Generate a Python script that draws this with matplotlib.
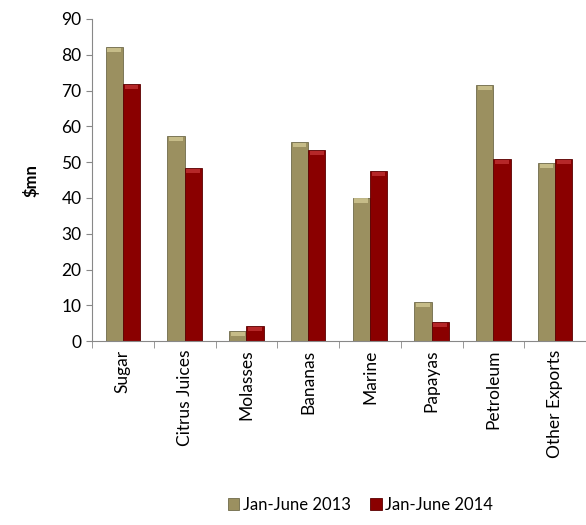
import numpy as np
import matplotlib.pyplot as plt
from matplotlib.ticker import FixedLocator

plt.rcParams['font.family'] = ['Lato', 'DejaVu Sans']

categories = ['Sugar', 'Citrus Juices', 'Molasses', 'Bananas', 'Marine',
              'Papayas', 'Petroleum', 'Other Exports']
exports_2013 = [82.2, 57.3, 2.8, 55.6, 40.1, 11.0, 71.6, 49.7]
exports_2014 = [71.8, 48.4, 4.2, 53.4, 47.5, 5.3, 50.9, 50.9]
series_labels = ['Jan-June 2013', 'Jan-June 2014']

olive = '#9b9060'
maroon = '#8a0000'
olive_cap = '#d9d09a'
maroon_cap = '#c8383a'

fig = plt.figure(figsize=(5.86, 5.25), dpi=100)
ax = fig.add_axes([0.157, 0.35, 0.843, 0.614])

x = np.arange(len(categories))
w = 0.28
b1 = ax.bar(x - w / 2, exports_2013, w, color=olive, edgecolor='#6f6a4a',
            linewidth=0.6, label=series_labels[0])
b2 = ax.bar(x + w / 2, exports_2014, w, color=maroon, edgecolor='#5a0000',
            linewidth=0.6, label=series_labels[1])

# light bevel strip along the top of each bar
cap = 1.2
for xs, vals, c in [(x - w / 2, exports_2013, olive_cap),
                    (x + w / 2, exports_2014, maroon_cap)]:
    vals = np.array(vals)
    h = np.minimum(cap, vals * 0.5)
    ax.bar(xs, h, w * 0.8, bottom=vals - h - 0.2, color=c,
           linewidth=0, alpha=0.7)

ax.set_xlim(-0.5, len(categories) - 0.5)
ax.set_ylim(0, 90)
ax.set_yticks(np.arange(0, 91, 10))
ax.set_xticks(x)
ax.set_xticklabels(categories, rotation=90, fontsize=12.5)
ax.xaxis.set_minor_locator(FixedLocator(np.arange(-0.5, len(categories), 1)))
ax.tick_params(axis='x', which='major', length=0, pad=6)
ax.tick_params(axis='x', which='minor', length=5, color='#888888')
ax.tick_params(axis='y', length=4, color='#888888', labelsize=12.5)

for side in ['top', 'right']:
    ax.spines[side].set_visible(False)
for side in ['left', 'bottom']:
    ax.spines[side].set_color('#888888')

ax.set_ylabel('$mn', fontsize=12, fontweight='bold', labelpad=16)

fig.legend(handles=[b1, b2], labels=series_labels, loc='lower center',
           bbox_to_anchor=(0.615, -0.005), ncol=2, frameon=False, fontsize=12,
           handlelength=0.7, handleheight=0.7, handletextpad=0.2,
           columnspacing=1.2)

fig.savefig('out.png', dpi=100)
